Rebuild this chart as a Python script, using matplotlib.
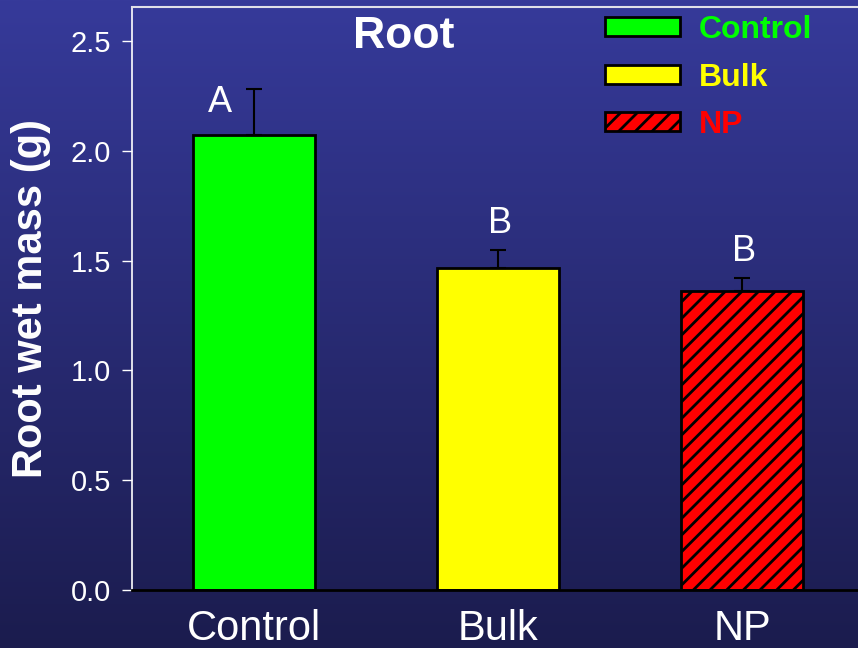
import numpy as np
import matplotlib
matplotlib.use('Agg')
import matplotlib.pyplot as plt

plt.rcParams['font.family'] = ['Liberation Sans', 'DejaVu Sans']
plt.rcParams['hatch.linewidth'] = 2.0

groups = ['Control', 'Bulk', 'NP']
values = [2.07, 1.465, 1.36]
errors = [0.21, 0.085, 0.06]
letters = ['A', 'B', 'B']
colors = ['#00ff00', '#ffff00', '#ff0000']
hatches = ['', '', '//']
yticks = [0.0, 0.5, 1.0, 1.5, 2.0, 2.5]

fig = plt.figure(figsize=(8.58, 6.48), dpi=100)

# gradient background
bg = fig.add_axes([0, 0, 1, 1], zorder=-10)
top = np.array([0x36, 0x3a, 0x9a]) / 255
bot = np.array([0x1b, 0x1c, 0x4e]) / 255
t = np.linspace(0, 1, 256)[:, None]
grad = top * (1 - t) + bot * t
bg.imshow(grad[:, None, :], aspect='auto', extent=[0, 1, 0, 1])
bg.axis('off')

ax = fig.add_axes([132 / 858, 1 - 590 / 648, 1 - 132 / 858, (590 - 7) / 648])
ax.set_facecolor('none')

x = np.arange(len(groups))
for i in range(len(groups)):
    ax.bar(x[i], values[i], width=0.5, color=colors[i], edgecolor='black',
           linewidth=2, hatch=hatches[i], label=groups[i], zorder=2)
    ax.errorbar(x[i], values[i], yerr=[[0], [errors[i]]], fmt='none',
                ecolor='black', elinewidth=1.5, capsize=6, capthick=1.5, zorder=3)

# significance letters
for i, let in enumerate(letters):
    if i == 0:
        ax.text(x[i] - 0.14, values[i] + errors[i] - 0.06, let, color='white',
                fontsize=26, ha='center', va='center')
    else:
        ax.text(x[i] + 0.01, values[i] + errors[i] + 0.12, let, color='white',
                fontsize=26, ha='center', va='center')

ax.set_xlim(-0.5, 2.475)
ax.set_ylim(0, 2.655)
ax.set_yticks(yticks)
ax.set_yticklabels(['%.1f' % v for v in yticks])
ax.set_xticks(x)
ax.set_xticklabels(groups)
ax.tick_params(axis='y', colors='white', labelsize=21, length=7, width=1, direction='out', pad=8)
ax.tick_params(axis='x', colors='white', labelsize=30, length=0, pad=14)

ax.spines['right'].set_visible(False)
ax.spines['left'].set_color('white')
ax.spines['left'].set_linewidth(1.2)
ax.spines['top'].set_color('#e0e0e8')
ax.spines['top'].set_linewidth(1.5)
ax.spines['bottom'].set_color('black')
ax.spines['bottom'].set_linewidth(2)

ax.set_ylabel('Root wet mass (g)', color='white', fontsize=30, fontweight='bold')
ax.yaxis.set_label_coords((31 - 132) / 726, 0.5)
ax.yaxis.label.set_va('center')

fig.text(404 / 858, 1 - 37 / 648, 'Root', color='white', fontsize=32,
         fontweight='bold', ha='center', va='center')

leg = ax.legend(loc='upper left', bbox_to_anchor=(605 / 858, 1 - 15 / 648),
                bbox_transform=fig.transFigure, frameon=False, fontsize=23,
                handlelength=2.35, handleheight=0.55, handletextpad=0.6,
                labelspacing=0.55, borderpad=0, borderaxespad=0)
for txt, c in zip(leg.get_texts(), colors):
    txt.set_color(c)
    txt.set_fontweight('bold')

fig.savefig('out.png', dpi=100)
